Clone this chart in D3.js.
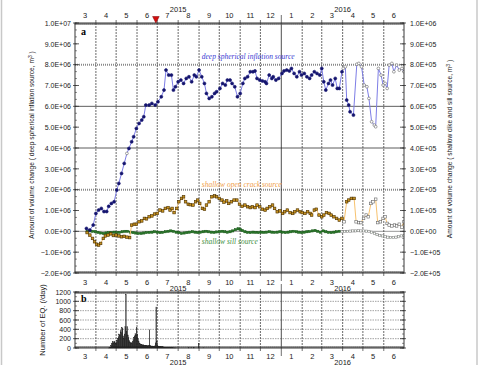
<!DOCTYPE html>
<html>
<head>
<meta charset="utf-8">
<script src="https://cdn.jsdelivr.net/npm/d3@7"></script>
<style>
body { margin: 0; background: #fff; }
svg { display: block; font-family: "Liberation Sans", Arial, sans-serif; }
</style>
</head>
<body>
<div id="chart"></div>
<script>
// days counted from 2015-03-01
const startDate = new Date(2015, 2, 1);
const endDate = new Date(2016, 6, 1);
const eruptionDay = 120.5;

// deep spherical inflation source (million m3, left axis)
const deep = [
  [17,0.14],[22,0.06],[27,0.3],[31,0.86],[35,1.02],[39,1.1],[43,0.95],[47,0.95],[50,1.2],[54,1.34],
  [58,1.42],[62,1.98],[65,2.3],[69,2.78],[73,3.26],[77,3.74],[80,3.98],[84,4.3],[87,4.54],[91,4.94],
  [95,5.18],[99,5.34],[102,5.5],[105,6.06],[110,6.06],[114,6.14],[119,6.06],[123,6.22],[128,6.46],[132,6.78],
  [135,7.74],[139,7.5],[143,7.5],[146,6.78],[149,6.94],[153,7.18],[157,7.26],[161,7.1],[165,7.34],[169,7.42],
  [173,7.18],[177,7.5],[180,7.42],[184,7.74],[188,7.42],[192,7.1],[195,6.62],[199,6.38],[203,6.46],[207,6.62],
  [210,6.7],[215,6.86],[219,7.1],[223,7.02],[226,7.26],[230,7.26],[233,7.1],[237,6.94],[241,6.46],[245,6.62],
  [249,7.1],[252,7.34],[256,7.42],[260,7.66],[264,7.66],[267,7.7],[270,7.34],[274,7.26],[278,7.22],[282,7.18],
  [284,7.1],[288,7.5],[292,7.34],[294,7.42],[298,7.26],[302,7.34],[307,7.58],[310,7.7],[314,7.74],[318,7.7],
  [321,7.82],[325,7.58],[329,7.42],[333,7.66],[336,7.5],[340,7.58],[344,7.42],[348,7.34],[351,7.5],[355,7.66],
  [359,7.58],[363,7.5],[366,7.82],[369,7.18],[372,6.78],[376,7.1],[379,7.26],[382,7.02],[386,7.34],[389,6.86],
  [392,6.86],[396,7.66],[398,7.82],[401,7.9],[403,6.3],[406,6.06],[408,5.74],[413,5.58],[418,8.02],[421,8.06],
  [425,7.9],[429,7.02],[433,6.94],[436,6.38],[440,5.26],[444,5.1],[446,5.02],[450,7.82],[454,7.5],[457,7.02],
  [460,7.1],[463,6.86],[466,7.98],[470,8.06],[473,7.66],[477,7.98],[481,7.74],[485,7.82],[488,7.66]
];
const deepOpenDays = [77,398,401,418,421,425,429,433,436,440,444,446,450,454,457,460,463,466,470,473,477,481,485,488];

// shallow open crack source (1e5 m3, right axis)
const crack = [
  [18,-0.06],[22,-0.18],[26,-0.34],[29,-0.5],[32,-0.62],[35,-0.66],[38,-0.58],[42,-0.34],[45,-0.22],[49,-0.18],
  [53,-0.12],[57,-0.2],[61,-0.18],[65,-0.22],[69,-0.26],[73,-0.24],[77,-0.28],[81,-0.3],[84,0.3],[88,0.34],
  [91,0.34],[95,0.46],[99,0.5],[103,0.62],[106,0.6],[110,0.7],[114,0.74],[118,0.83],[122,0.86],[126,1.02],
  [130,0.98],[134,1.1],[138,1.14],[141,1.02],[144,1.1],[147,0.9],[151,1.1],[154,1.42],[158,1.58],[161,1.66],
  [164,1.42],[168,1.3],[171,1.28],[175,1.26],[179,1.42],[182,1.5],[185,1.34],[189,1.1],[192,1.06],[195,1.26],
  [199,1.42],[203,1.66],[207,1.7],[210,1.66],[214,1.58],[218,1.5],[221,1.4],[225,1.46],[228,1.34],[232,1.42],
  [236,1.5],[240,1.5],[244,1.3],[248,1.2],[252,1.26],[256,1.18],[260,1.14],[263,1.18],[267,1.14],[270,1.26],
  [274,1.18],[278,1.06],[282,1.02],[285,1.1],[289,1.18],[293,1.26],[296,1.1],[300,0.94],[304,0.98],[308,0.86],
  [311,0.94],[315,1.02],[319,0.9],[323,0.86],[326,0.94],[330,1.02],[334,0.94],[337,0.9],[341,0.86],[345,0.94],
  [349,0.86],[351,0.78],[355,1.02],[358,1.06],[362,0.78],[366,0.7],[369,0.78],[373,0.9],[377,0.86],[380,0.78],
  [384,0.7],[388,0.62],[392,0.54],[396,0.62],[399,0.46],[403,1.42],[406,1.5],[410,1.58],[414,1.58],[417,0.46],
  [421,0.42],[424,0.42],[428,0.62],[432,0.78],[435,0.7],[439,1.34],[442,1.42],[446,1.54],[449,0.42],[453,0.46],
  [457,0.62],[460,0.7],[463,0.38],[466,0.3],[470,0.26],[474,0.3],[477,0.26],[481,0.34],[485,0.2],[488,0.46]
];
const crackOpenDays = [399,417,421,424,428,432,435,439,442,446,449,453,457,460,463,466,470,474,477,481,485,488];

// shallow sill source (1e5 m3, right axis)
const sill = [
  [18,0.0],[22,0.02],[26,0.0],[30,-0.02],[34,-0.05],[38,-0.08],[42,-0.1],[46,-0.08],[50,-0.06],[54,-0.05],
  [58,-0.04],[62,-0.06],[66,-0.05],[70,-0.02],[74,0.0],[78,0.0],[82,-0.04],[86,-0.06],[90,-0.08],[94,-0.1],
  [98,-0.1],[102,-0.08],[106,-0.06],[110,-0.05],[114,-0.04],[118,-0.02],[122,-0.04],[126,-0.06],[130,-0.05],[134,-0.02],
  [138,0.0],[142,0.02],[146,0.0],[150,-0.04],[154,-0.06],[158,-0.1],[162,-0.08],[166,-0.06],[170,-0.04],[174,-0.02],
  [178,-0.04],[182,-0.06],[186,-0.04],[190,-0.02],[194,0.0],[198,-0.02],[202,-0.04],[206,-0.05],[210,-0.03],[214,-0.02],
  [218,0.0],[222,-0.02],[226,-0.04],[230,-0.02],[234,0.02],[238,0.08],[242,0.12],[245,0.1],[248,0.04],[252,-0.02],
  [256,-0.05],[260,-0.06],[264,-0.04],[268,-0.05],[272,-0.06],[276,-0.04],[280,-0.05],[284,-0.04],[288,-0.02],[292,-0.04],
  [296,-0.05],[300,-0.04],[304,-0.02],[308,-0.04],[312,-0.06],[316,-0.04],[320,-0.02],[324,0.0],[328,-0.02],[332,-0.04],
  [336,-0.06],[340,-0.04],[344,-0.02],[348,-0.01],[352,0.02],[356,0.04],[360,0.0],[364,-0.04],[368,0.02],[372,-0.02],
  [376,-0.05],[380,-0.06],[384,-0.04],[388,-0.02],[392,0.0],[396,-0.02],[400,-0.01],[404,0.0],[408,0.01],[412,0.02],
  [416,0.02],[420,0.03],[424,0.02],[428,0.02],[432,0.01],[436,0.0],[440,-0.04],[444,-0.1],[448,-0.16],[452,-0.2],
  [456,-0.22],[460,-0.26],[464,-0.28],[468,-0.3],[472,-0.3],[476,-0.28],[480,-0.26],[484,-0.22],[488,-0.2]
];
const sillOpenFrom = 396;

// number of earthquakes per day, consecutive days from eqFirstDay
const eqFirstDay = 50;
const eqCount = [
  3,8,20,50,90,120,140,110,150,120, 100,130,170,200,240,300,280,380,330,440,
  420,260,200,300,460,1150,360,460,280,220, 160,130,110,120,100,140,180,230,260,310,
  280,440,300,200,150,110,90,80,75,70, 65,70,60,55,60,55,50,50,45,50,
  390,60,45,40,45,40,40,35,45,110, 880,140,60,40,30,35,30,25,30,20,
  25,15,20,15,12,10,8,10,6,8, 5,6,4,5,3,4,2,3,2,1, 2
];
const eqExtra = [[168,8],[172,10],[176,6],[183,100],[190,4],[230,3]];

const leftTicks = d3.range(-2, 10.5, 1);
const rightTicks = d3.range(-2, 10.5, 1);
const eqTicks = d3.range(0, 1201, 200);
const yearLabels = [[new Date(2015, 7, 1), "2015"], [new Date(2016, 3, 1), "2016"]];

// ---------- layout
const width = 481, height = 365;
const xL = 75, xR = 404, aTop = 23, aBot = 273, bTop = 292, bBot = 348;

const svg = d3.select("#chart").append("svg")
  .attr("width", width).attr("height", height);

// figure frame
svg.append("line").attr("x1", 1.5).attr("x2", 1.5).attr("y1", 0).attr("y2", height)
  .attr("stroke", "#c8c8c8").attr("stroke-width", 1.5);
svg.append("line").attr("x1", 477).attr("x2", 477).attr("y1", 0).attr("y2", height)
  .attr("stroke", "#c8c8c8").attr("stroke-width", 1.5);

const x = d3.scaleTime().domain([startDate, endDate]).range([xL, xR]);
const yA = d3.scaleLinear().domain([-2, 10]).range([aBot, aTop]);   // 1e6 m3
const yR = d3.scaleLinear().domain([-2, 10]).range([aBot, aTop]);   // 1e5 m3
const yB = d3.scaleLinear().domain([0, 1200]).range([bBot, bTop]);

const dt = d => d3.timeDay.offset(startDate, d);

function sci(mult) {
  return v => {
    const val = v * mult;
    if (val === 0) return "0.0E+00";
    const e = Math.floor(Math.log10(Math.abs(val)) + 1e-9);
    const m = Math.abs(val) / Math.pow(10, e);
    return (val < 0 ? "\u2212" : "") + m.toFixed(1) + "E" + (e < 0 ? "-" : "+") + String(Math.abs(e)).padStart(2, "0");
  };
}

const monthBounds = d3.timeMonth.range(d3.timeMonth.offset(startDate, 1), endDate);
const monthMids = d3.timeMonth.range(startDate, endDate).map(d => d3.timeDay.offset(d, 15));
const days = d3.timeDay.range(startDate, endDate);

function frameDecor(top, bot) {
  const g = svg.append("g");
  // vertical month grid
  g.selectAll(".vg").data(monthBounds).join("line")
    .attr("x1", d => x(d)).attr("x2", d => x(d))
    .attr("y1", top).attr("y2", bot)
    .attr("stroke", d => d.getMonth() === 0 ? "#222" : "#444")
    .attr("stroke-width", 0.8)
    .attr("stroke-dasharray", d => d.getMonth() === 0 ? null : "2,1");
  // daily ticks on top and bottom
  g.selectAll(".dt").data(days).join("line")
    .attr("x1", d => x(d)).attr("x2", d => x(d))
    .attr("y1", top).attr("y2", top + 2).attr("stroke", "#555").attr("stroke-width", 0.5);
  g.selectAll(".db").data(days).join("line")
    .attr("x1", d => x(d)).attr("x2", d => x(d))
    .attr("y1", bot).attr("y2", bot - 2).attr("stroke", "#555").attr("stroke-width", 0.5);
  // month ticks outside
  [top, bot].forEach((yy, i) => {
    const s = i === 0 ? -1 : 1;
    g.selectAll(null).data(monthBounds).join("line")
      .attr("x1", d => x(d)).attr("x2", d => x(d))
      .attr("y1", yy).attr("y2", d => yy + s * (d.getMonth() === 0 ? 8 : 3))
      .attr("stroke", "#333").attr("stroke-width", 0.7);
  });
  return g;
}

function monthLabels(yy, yearY) {
  svg.append("g").attr("font-size", 7.5).attr("fill", "#222").attr("text-anchor", "middle")
    .selectAll("text").data(monthMids).join("text")
    .attr("x", d => x(d)).attr("y", yy).text(d => d.getMonth() + 1);
  svg.append("g").attr("font-size", 7.5).attr("fill", "#222").attr("text-anchor", "middle")
    .selectAll("text").data(yearLabels).join("text")
    .attr("x", d => x(d[0])).attr("y", yearY).text(d => d[1]);
}

function yTicks(scale, values, minorStep, xPos, dir) {
  const g = svg.append("g");
  const minor = d3.range(values[0], values[values.length - 1] + 1e-6, minorStep);
  g.selectAll(".mn").data(minor).join("line")
    .attr("x1", xPos).attr("x2", xPos + dir * 2)
    .attr("y1", d => scale(d)).attr("y2", d => scale(d))
    .attr("stroke", "#444").attr("stroke-width", 0.6);
  g.selectAll(".mj").data(values).join("line")
    .attr("x1", xPos - dir * 2).attr("x2", xPos + dir * 4)
    .attr("y1", d => scale(d)).attr("y2", d => scale(d))
    .attr("stroke", "#333").attr("stroke-width", 0.8);
}

// ---------- panel a
const hGrid = [[8, "#8a8a8a", 2, "1,1"], [6, "#333", 0.8, null], [4, "#333", 0.8, null], [2, "#8a8a8a", 2, "1,1"], [0, "#555", 0.6, null]];
svg.append("g").selectAll("line").data(hGrid).join("line")
  .attr("x1", xL).attr("x2", xR)
  .attr("y1", d => yA(d[0])).attr("y2", d => yA(d[0]))
  .attr("stroke", d => d[1]).attr("stroke-width", d => d[2])
  .attr("stroke-dasharray", d => d[3]);

frameDecor(aTop, aBot);
yTicks(yA, leftTicks, 1 / 3, xL, 1);
yTicks(yR, rightTicks, 1 / 3, xR, -1);

svg.append("g").attr("transform", `translate(${xL},0)`)
  .call(d3.axisLeft(yA).tickValues(leftTicks).tickSize(0).tickPadding(4).tickFormat(sci(1e6)))
  .call(g => g.select(".domain").remove())
  .call(g => g.selectAll("text").attr("font-size", 7).attr("fill", "#222").attr("font-family", null));
svg.append("g").attr("transform", `translate(${xR},0)`)
  .call(d3.axisRight(yR).tickValues(rightTicks).tickSize(0).tickPadding(6).tickFormat(sci(1e5)))
  .call(g => g.select(".domain").remove())
  .call(g => g.selectAll("text").attr("font-size", 7).attr("fill", "#222").attr("font-family", null));

monthLabels(18, 12);
monthLabels(284.5, 290.5);

// series
const clipA = svg.append("defs").append("clipPath").attr("id", "clipA")
  .append("rect").attr("x", xL).attr("y", aTop).attr("width", xR - xL).attr("height", aBot - aTop);
const plotA = svg.append("g").attr("clip-path", "url(#clipA)");

const lineA = d3.line().x(d => x(dt(d[0]))).y(d => yA(d[1]));
const lineR = d3.line().x(d => x(dt(d[0]))).y(d => yR(d[1]));

plotA.append("path").datum(sill).attr("d", lineR).attr("fill", "none").attr("stroke", "#5aaa5a").attr("stroke-width", 0.8);
plotA.append("g").selectAll("rect").data(sill).join("rect")
  .attr("x", d => x(dt(d[0])) - 1.1).attr("y", d => yR(d[1]) - 1.1)
  .attr("width", 2.2).attr("height", 2.2)
  .attr("fill", d => d[0] >= sillOpenFrom ? "#fff" : "#2a7a2a")
  .attr("stroke", d => d[0] >= sillOpenFrom ? "#777" : "#145214").attr("stroke-width", 0.5);

plotA.append("path").datum(crack).attr("d", lineR).attr("fill", "none").attr("stroke", "#f7c26e").attr("stroke-width", 1);
plotA.append("g").selectAll("rect").data(crack).join("rect")
  .attr("x", d => x(dt(d[0])) - 1.3).attr("y", d => yR(d[1]) - 1.3)
  .attr("width", 2.6).attr("height", 2.6)
  .attr("fill", d => crackOpenDays.includes(d[0]) ? "#fff" : "#c8921e")
  .attr("stroke", d => crackOpenDays.includes(d[0]) ? "#666" : "#4a3000").attr("stroke-width", 0.6);

plotA.append("path").datum(deep).attr("d", lineA).attr("fill", "none").attr("stroke", "#7d7de6").attr("stroke-width", 1);
plotA.append("g").selectAll("circle").data(deep).join("circle")
  .attr("cx", d => x(dt(d[0]))).attr("cy", d => yA(d[1]))
  .attr("r", d => deepOpenDays.includes(d[0]) ? 1.4 : 1.5)
  .attr("fill", d => deepOpenDays.includes(d[0]) ? "#fff" : "#14146e")
  .attr("stroke", d => deepOpenDays.includes(d[0]) ? "#666" : "#14146e").attr("stroke-width", 0.6);

svg.append("rect").attr("x", xL).attr("y", aTop).attr("width", xR - xL).attr("height", aBot - aTop)
  .attr("fill", "none").attr("stroke", "#222").attr("stroke-width", 0.9);

// series names
const names = [
  ["deep spherical inflation source", "#3c3cd2", 8.3, yA],
  ["shallow open crack source", "#f0a04a", 2.2, yR],
  ["shallow sill source", "#3f8f3f", -0.55, yR]
];
svg.append("g").attr("font-family", "'Liberation Serif', 'Times New Roman', serif")
  .attr("font-style", "italic").attr("font-size", 7.5)
  .selectAll("text").data(names).join("text")
  .attr("x", x(dt(188))).attr("y", d => d[3](d[2]) + 1)
  .attr("fill", d => d[1]).text(d => d[0]);

// eruption marker
const ex = x(dt(eruptionDay));
svg.append("path").attr("d", `M${ex - 3.3},${aTop - 6.5}L${ex + 3.3},${aTop - 6.5}L${ex},${aTop}Z`)
  .attr("fill", "#d40d0d").attr("stroke", "#7a0000").attr("stroke-width", 0.5);

svg.append("text").attr("x", 81).attr("y", 35).attr("font-family", "'Liberation Serif', serif")
  .attr("font-weight", "bold").attr("font-size", 10).text("a");

// axis titles
const leftTitle = svg.append("text").attr("transform", `translate(34,${(aTop + aBot) / 2 - 3}) rotate(-90)`)
  .attr("text-anchor", "middle").attr("font-size", 6.6).attr("fill", "#222");
leftTitle.append("tspan").text("Amount of volume change ( deep spherical inflation source, m");
leftTitle.append("tspan").attr("dy", -2.5).attr("font-size", 5).text("3");
leftTitle.append("tspan").attr("dy", 2.5).text(" )");

const rightTitle = svg.append("text").attr("transform", `translate(452,${(aTop + aBot) / 2 + 1}) rotate(-90)`)
  .attr("text-anchor", "middle").attr("font-size", 6.6).attr("fill", "#222");
rightTitle.append("tspan").text("Amount of volume change ( shallow dike and sill source,  m");
rightTitle.append("tspan").attr("dy", -2.5).attr("font-size", 5).text("3");
rightTitle.append("tspan").attr("dy", 2.5).text(" )");

// ---------- panel b
svg.append("g").selectAll("line").data(eqTicks.slice(1, -1)).join("line")
  .attr("x1", xL).attr("x2", xR)
  .attr("y1", d => yB(d)).attr("y2", d => yB(d))
  .attr("stroke", "#666").attr("stroke-width", 0.6).attr("stroke-dasharray", "1.5,1");

frameDecor(bTop, bBot);
yTicks(yB, eqTicks, 100, xL, 1);
yTicks(yB, eqTicks, 100, xR, -1);

svg.append("g").attr("transform", `translate(${xL},0)`)
  .call(d3.axisLeft(yB).tickValues(eqTicks).tickSize(0).tickPadding(4).tickFormat(d3.format("d")))
  .call(g => g.select(".domain").remove())
  .call(g => g.selectAll("text").attr("font-size", 7).attr("fill", "#222").attr("font-family", null));

const eqData = eqCount.map((c, i) => [eqFirstDay + i, c]).concat(eqExtra);
svg.append("g").selectAll("rect").data(eqData).join("rect")
  .attr("x", d => x(dt(d[0]))).attr("width", x(dt(1)) - x(dt(0)))
  .attr("y", d => yB(d[1])).attr("height", d => bBot - yB(d[1]))
  .attr("fill", "#1e1e1e").attr("stroke", "#1e1e1e").attr("stroke-width", 0.3);

svg.append("rect").attr("x", xL).attr("y", bTop).attr("width", xR - xL).attr("height", bBot - bTop)
  .attr("fill", "none").attr("stroke", "#222").attr("stroke-width", 0.9);

monthLabels(358.5, 364.5);

svg.append("text").attr("x", 81).attr("y", 302).attr("font-family", "'Liberation Serif', serif")
  .attr("font-weight", "bold").attr("font-size", 10).text("b");

svg.append("text").attr("transform", `translate(45,${(bTop + bBot) / 2}) rotate(-90)`)
  .attr("text-anchor", "middle").attr("font-size", 7.5).attr("fill", "#222")
  .text("Number of EQ. (/day)");
</script>
</body>
</html>
